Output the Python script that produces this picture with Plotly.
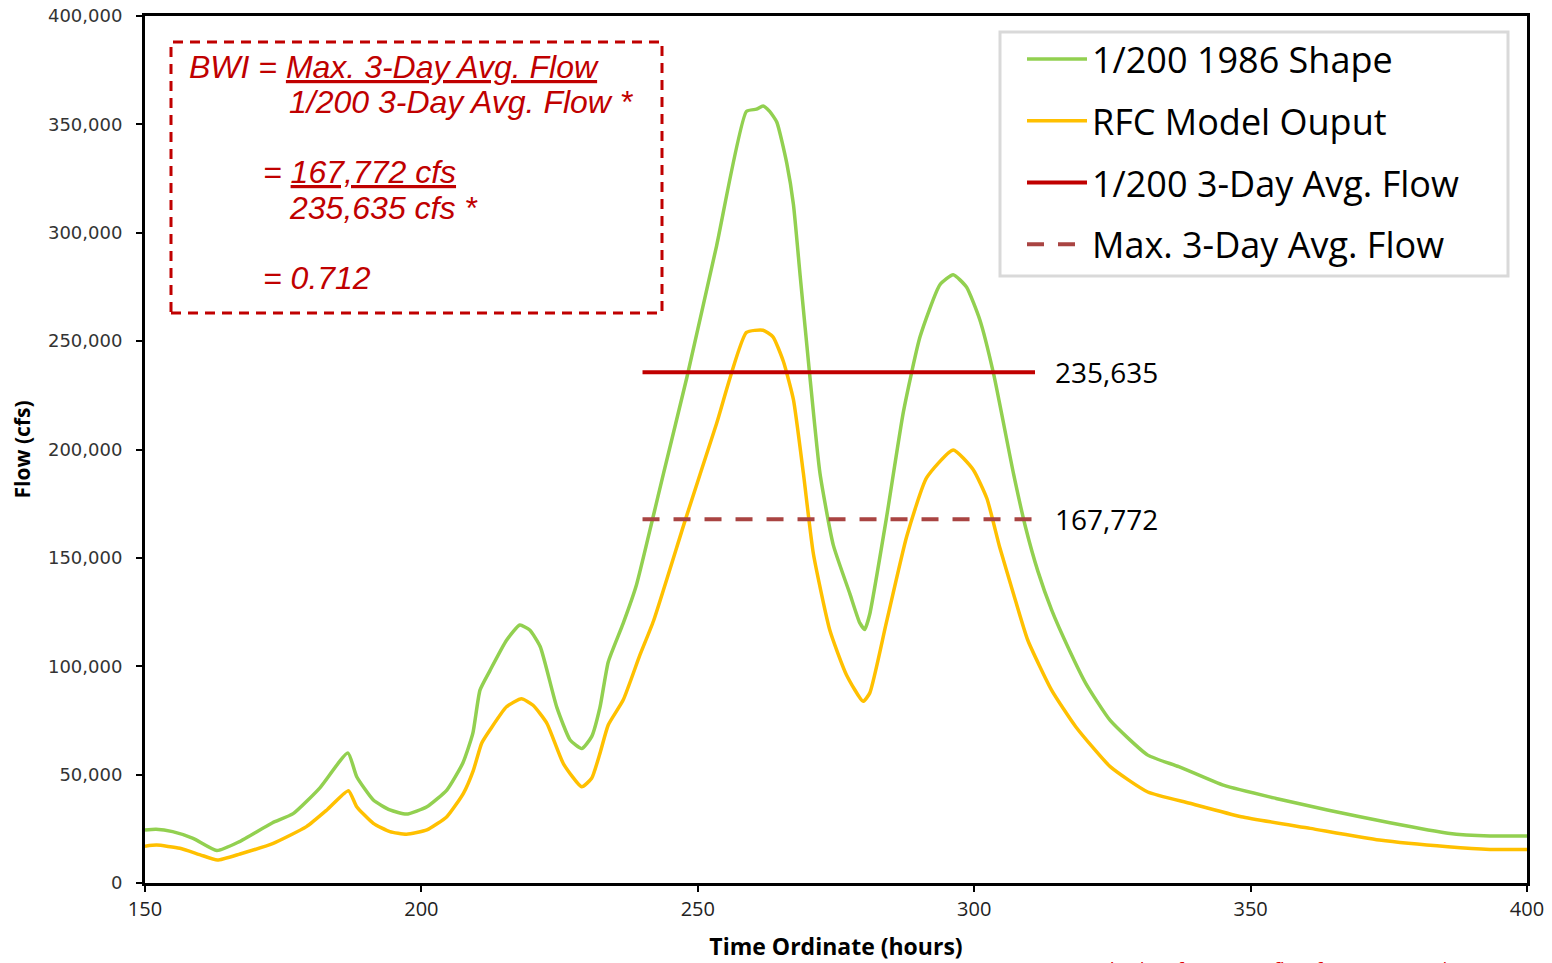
import plotly.graph_objects as go

# ---- Hydrograph ordinates (hours, cfs) ----
shape_1986_hours = [150, 152, 155, 158.7, 163, 167, 173, 176.8, 181.6, 186.7, 188.3, 191.3,
                    194.3, 197.3, 201, 204.6, 207.5, 209.3, 210.6, 212.4, 215.4, 217.8, 219.6,
                    221.5, 224.5, 226.9, 229, 230.8, 232.3, 233.8, 236.5, 238.9, 241.8, 243.8,
                    248, 253.4, 258.8, 260.6, 261.8, 263, 264.3, 266.1, 267.3, 268.5, 270.3,
                    272.1, 274.5, 277.5, 279.3, 280.2, 281.1, 284.1, 287.2, 290.2, 293.8, 296.2,
                    298.6, 301, 303.5, 307.1, 309.3, 311.5, 314, 317.2, 320.2, 324.6, 331.4,
                    337, 345.2, 354.6, 363.9, 375.2, 385.7, 393.3, 400]
shape_1986_flow = [24500, 24800, 23700, 20600, 15000, 19000, 27700, 32000, 43800, 60000, 49000,
                   38300, 33700, 31800, 35200, 42900, 55400, 69000, 89000, 98000, 112000, 119000,
                   116700, 109000, 81000, 66000, 62000, 67500, 81000, 102000, 119800, 137500,
                   167700, 189000, 233000, 294000, 356000, 357000, 358500, 356000, 351000,
                   332000, 313000, 280600, 233000, 189000, 156000, 133500, 120000, 117000,
                   124000, 168000, 217500, 252000, 276000, 280600, 275000, 260000, 235000,
                   189000, 164000, 144000, 126000, 107500, 92000, 75000, 59000, 53700, 45000,
                   39000, 33700, 27800, 23000, 21700, 21700]

rfc_hours = [150, 152.1, 156.3, 160, 163.1, 167.2, 173.2, 179.2, 182.9, 186.8, 188.3, 191.3,
             194.3, 197.3, 201, 204.6, 207.6, 209.4, 210.9, 212.4, 215.4, 218.1, 220.2, 222.7,
             225.7, 229, 230.8, 232.3, 233.8, 236.5, 239.5, 242, 247.8, 253.4, 258.8, 261.8,
             263.6, 265.5, 267.3, 269.1, 270.9, 273.9, 276.9, 279.9, 281.1, 284.1, 287.8,
             291.4, 296.2, 299.8, 302.3, 304.6, 307.1, 309.7, 314, 318.4, 324.6, 331.4, 339,
             348.3, 360.8, 373.3, 385.7, 393.3, 400]
rfc_flow = [17000, 17500, 16000, 13000, 10600, 13400, 18300, 26000, 33700, 42600, 35200, 27500,
            23700, 22500, 24500, 30600, 41400, 52000, 64500, 70600, 81300, 85000, 82000, 73700,
            55000, 44400, 48300, 59800, 72900, 84400, 105000, 121000, 168000, 212000, 254000,
            255000, 252000, 240500, 223000, 189000, 152000, 116500, 96000, 83800, 87600,
            120000, 160000, 187000, 199800, 190800, 177400, 155000, 133500, 112000, 89000,
            72000, 53700, 42000, 36800, 30600, 25200, 19800, 16700, 15500, 15500]

# 3-day average flows (cfs) and the window they are drawn across (hours)
avg_window_hours = [240, 311]
flow_200yr_3day = 235635
flow_max_3day = 167772
bwi = flow_max_3day / flow_200yr_3day

series_names = ["1/200 1986 Shape", "RFC Model Ouput",
                "1/200 3-Day Avg. Flow", "Max. 3-Day Avg. Flow"]
y_ticks = list(range(0, 400001, 50000))
x_ticks = [150, 200, 250, 300, 350, 400]

RED = "#C00000"
W, H = 1552, 963
L, R, T, B = 145, 25, 16, 80
PW, PH = W - L - R, H - T - B


def px(x):
    return (x - L) / PW


def py(y):
    return (H - B - y) / PH


fig = go.Figure()
fig.add_trace(go.Scatter(x=shape_1986_hours, y=shape_1986_flow, mode="lines",
                         name=series_names[0], legendgroup="a",
                         line=dict(color="#92D050", width=3.5, shape="spline", smoothing=0.5)))
fig.add_trace(go.Scatter(x=rfc_hours, y=rfc_flow, mode="lines",
                         name=series_names[1], legendgroup="b",
                         line=dict(color="#FFC000", width=3.5, shape="spline", smoothing=0.5)))
fig.add_trace(go.Scatter(x=avg_window_hours, y=[flow_200yr_3day] * 2, mode="lines",
                         name=series_names[2], legendgroup="c",
                         line=dict(color=RED, width=4)))
fig.add_trace(go.Scatter(x=avg_window_hours, y=[flow_max_3day] * 2, mode="lines",
                         name=series_names[3], legendgroup="d",
                         line=dict(color="#A94442", width=4, dash="17px,14px")))

# value labels at the end of the average-flow lines
for val in (flow_200yr_3day, flow_max_3day):
    fig.add_annotation(x=avg_window_hours[1], y=val, xref="x", yref="y",
                       text=f"{val:,}", showarrow=False, xanchor="left", xshift=18,
                       font=dict(family="Open Sans", size=28, color="#000000"))

# legend frame
fig.add_shape(type="rect", xref="paper", yref="paper", layer="below",
              x0=px(1000), x1=px(1508), y0=py(276), y1=py(32),
              line=dict(color="#D9D9D9", width=3), fillcolor="white")

# BWI calculation box
fig.add_shape(type="rect", xref="paper", yref="paper",
              x0=px(171), x1=px(662), y0=py(313), y1=py(42),
              line=dict(color=RED, width=3, dash="10px,7px"), fillcolor="rgba(0,0,0,0)")

box_lines = [
    (187, 67, "BWI = <u>Max. 3-Day Avg. Flow</u>"),
    (287, 102, "1/200 3-Day Avg. Flow *"),
    (261, 172, f"= <u>{flow_max_3day:,} cfs</u>"),
    (287, 208, f"{flow_200yr_3day:,} cfs *"),
    (261, 278, f"= {bwi:.3f}"),
]
for xl, yc, txt in box_lines:
    fig.add_annotation(x=px(xl), y=py(yc), xref="paper", yref="paper", text=f"<i>{txt}</i>",
                       showarrow=False, xanchor="left", yanchor="middle",
                       font=dict(family="Liberation Sans", size=32, color=RED))

fig.add_annotation(x=px(1105), y=py(954), xref="paper", yref="paper",
                   text="* taken from 2011 flow frequency analysis", showarrow=False,
                   xanchor="left", yanchor="top",
                   font=dict(family="Open Sans", size=19, color="#E00000"))

fig.update_layout(
    width=W, height=H,
    margin=dict(l=L, r=R, t=T, b=B, autoexpand=False),
    paper_bgcolor="white", plot_bgcolor="white",
    showlegend=True,
    legend=dict(x=px(1022), y=py(29), xanchor="left", yanchor="top",
                bgcolor="rgba(0,0,0,0)", borderwidth=0,
                font=dict(family="Open Sans", size=36, color="#000000"),
                itemwidth=60, tracegroupgap=12, traceorder="grouped"),
    xaxis=dict(range=[150, 400], tickvals=x_ticks, showgrid=False, zeroline=False,
               automargin=False,
               showline=True, linecolor="black", linewidth=3, mirror=True,
               ticks="outside", ticklen=6, tickwidth=2, tickcolor="black",
               tickfont=dict(family="Open Sans", size=20, color="#222222"),
               title=dict(text="<b>Time Ordinate (hours)</b>", standoff=18,
                          font=dict(family="Open Sans", size=23, color="#000000"))),
    yaxis=dict(range=[0, 400000], tickvals=y_ticks, tickformat=",", showgrid=False,
               zeroline=False, automargin=False,
               showline=True, linecolor="black", linewidth=3, mirror=True,
               ticks="outside", ticklen=6, tickwidth=2, tickcolor="black",
               ticklabelstandoff=10,
               tickfont=dict(family="DejaVu Sans", size=18, color="#333333"),
               title=dict(text="<b>Flow (cfs)</b>", standoff=12,
                          font=dict(family="Open Sans", size=21, color="#000000"))),
)

fig.write_html("out.html")
